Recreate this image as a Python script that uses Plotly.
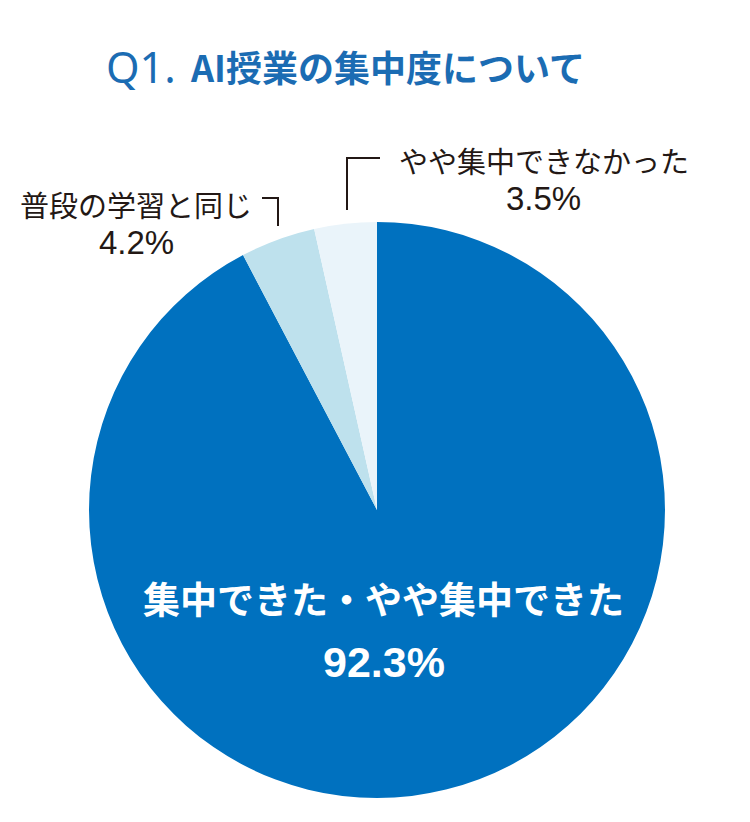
import plotly.graph_objects as go

labels = ["集中できた・やや集中できた", "普段の学習と同じ", "やや集中できなかった"]
values = [92.3, 4.2, 3.5]
colors = ["#0071BF", "#BEE1ED", "#EAF4FA"]
title_q = "Q1."
title_main = "AI授業の集中度について"

W, H = 750, 822
OFF = 8  # page body margin offset
FONT = "Noto Sans CJK JP"
NUMFONT = "Liberation Sans"

def px(x, y):
    return (x - OFF) / W, 1 - (y - OFF) / H

x0, y1 = px(89, 222)
x1, y0 = px(665, 798)
fig = go.Figure(go.Pie(
    labels=labels, values=values, sort=False, direction="clockwise", rotation=0,
    marker=dict(colors=colors, line=dict(width=0)),
    textinfo="none", hoverinfo="label+percent", showlegend=False,
    domain=dict(x=[x0, x1], y=[y0, y1]),
))

anns = []
def ann(x, y, text, size, color, family=FONT, xanchor="center"):
    ax, ay = px(x, y)
    anns.append(dict(x=ax, y=ay, xref="paper", yref="paper", showarrow=False,
                     xanchor=xanchor, yanchor="middle", text=text,
                     font=dict(family=family, size=size, color=color)))

TC = "#1B6CB3"
# title
ann(104, 67, title_q, 43, TC, family="Noto Sans", xanchor="left")
ann(188, 66, "<b>" + title_main + "</b>", 36, TC, xanchor="left")
# inside label
ann(383, 598, "<b>" + labels[0] + "</b>", 37, "white")
ann(384, 662, "<b>" + f"{values[0]}%" + "</b>", 43, "white", family=NUMFONT)
# outside labels
ann(136, 204, labels[1], 29, "#231815")
ann(136, 242, f"{values[1]}%", 33, "#231815", family=NUMFONT)
ann(544, 160, labels[2], 29, "#231815")
ann(543, 198, f"{values[2]}%", 33, "#231815", family=NUMFONT)

shapes = []
def path_shape(pts):
    d = "M " + " L ".join(f"{px(*p)[0]},{px(*p)[1]}" for p in pts)
    return dict(type="path", path=d, xref="paper", yref="paper",
                line=dict(color="#231815", width=2))
shapes.append(path_shape([(262, 198), (278, 198), (278, 226)]))
shapes.append(path_shape([(347, 210), (347, 158), (380, 158)]))

fig.update_layout(width=W, height=H, margin=dict(l=0, r=0, t=0, b=0),
                  paper_bgcolor="white", plot_bgcolor="white",
                  annotations=anns, shapes=shapes)
fig.write_html("out.html")
